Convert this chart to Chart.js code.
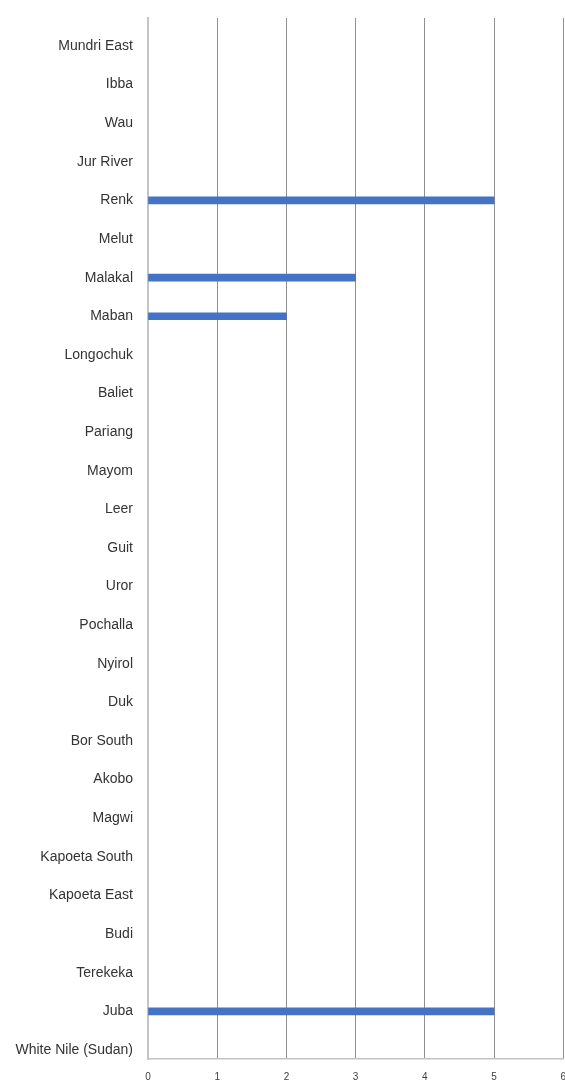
<!DOCTYPE html>
<html>
<head>
<meta charset="utf-8">
<script src="https://cdn.jsdelivr.net/npm/chart.js@4.4.0/dist/chart.umd.min.js"></script>
<style>
html,body{margin:0;padding:0;background:#fff;overflow:hidden;}
#wrap{width:578px;height:1086px;}
</style>
</head>
<body>
<div id="wrap"><canvas id="c" width="578" height="1086"></canvas></div>
<script>
const categories = ["Mundri East","Ibba","Wau","Jur River","Renk","Melut","Malakal","Maban","Longochuk","Baliet","Pariang","Mayom","Leer","Guit","Uror","Pochalla","Nyirol","Duk","Bor South","Akobo","Magwi","Kapoeta South","Kapoeta East","Budi","Terekeka","Juba","White Nile (Sudan)"];
const values = [0,0,0,0,5,0,3,2,0,0,0,0,0,0,0,0,0,0,0,0,0,0,0,0,0,5,0];
const xTicks = [0,1,2,3,4,5,6];

const points = categories.map((c,i)=>({x: values[i], y: i}));

new Chart(document.getElementById('c'), {
  type: 'bar',
  data: {
    datasets: [{
      data: points,
      backgroundColor: ctx => (ctx.raw && ctx.raw.x > 0) ? '#4472C4' : 'rgba(0,0,0,0)',
      borderWidth: 0,
      barThickness: 7
    }]
  },
  options: {
    responsive: false,
    animation: false,
    indexAxis: 'y',
    layout: { padding: { top: 18, right: 0, left: 0, bottom: 0 } },
    plugins: { legend: { display: false }, tooltip: { enabled: false } },
    scales: {
      x: {
        type: 'linear',
        offset: false,
        min: xTicks[0],
        max: xTicks[xTicks.length-1],
        afterBuildTicks: s => { s.ticks = xTicks.map(v=>({value:v})); },
        afterFit: s => { s.height = 27; },
        grid: {
          color: ctx => ctx.index === 0 ? 'rgba(0,0,0,0)' : '#8f8f8f',
          lineWidth: 1,
          drawTicks: false
        },
        border: { display: true, color: '#c4c4c4', width: 1.5 },
        ticks: { padding: 12, color: '#404040', font: { family: 'Liberation Sans', size: 10 } }
      },
      y: {
        type: 'linear',
        offset: false,
        reverse: true,
        min: -0.725,
        max: 26.235,
        afterBuildTicks: s => { s.ticks = categories.map((c,i)=>({value:i})); },
        afterFit: s => { s.width = 148; s.paddingTop = 0; s.paddingBottom = 0; },
        grid: { display: false, drawTicks: false },
        border: { display: true, color: '#c4c4c4', width: 2 },
        ticks: {
          autoSkip: false,
          padding: 15,
          color: '#333333',
          font: { family: 'Liberation Sans', size: 14 },
          callback: v => categories[v] !== undefined ? categories[v] : ''
        }
      }
    }
  }
});
</script>
</body>
</html>
